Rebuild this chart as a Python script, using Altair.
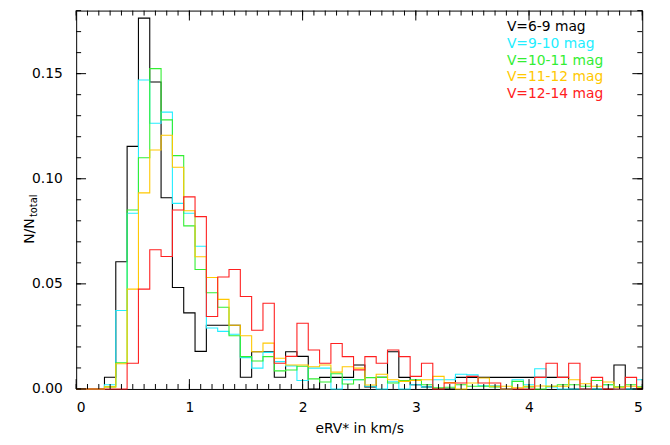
import altair as alt
import pandas as pd

# bin centres (km/s), bins of width 0.1
centers = [0.0, 0.1, 0.2, 0.3, 0.4, 0.5, 0.6, 0.7, 0.8, 0.9,
           1.0, 1.1, 1.2, 1.3, 1.4, 1.5, 1.6, 1.7, 1.8, 1.9,
           2.0, 2.1, 2.2, 2.3, 2.4, 2.5, 2.6, 2.7, 2.8, 2.9,
           3.0, 3.1, 3.2, 3.3, 3.4, 3.5, 3.6, 3.7, 3.8, 3.9,
           4.0, 4.1, 4.2, 4.3, 4.4, 4.5, 4.6, 4.7, 4.8, 4.9, 5.0]

v6_9 = [0, 0, 0, 0.0056, 0.0605, 0.1154, 0.1764, 0.146, 0.091, 0.0483,
        0.0362, 0.0179, 0.0303, 0.0303, 0.0303, 0.0056, 0.0177, 0.0177, 0.0056, 0.0177,
        0.0155, 0.0, 0.0055, 0.0055, 0.0055, 0.0114, 0.001, 0.0055, 0.0177, 0.0055,
        0.002, 0.001, 0.0, 0.0, 0.0055, 0.0055, 0.0055, 0.0055, 0.0055, 0.0055,
        0.0055, 0.0055, 0.0055, 0.0055, 0.0, 0.0, 0.0, 0.0, 0.0114, 0.0, 0.0]

v9_10 = [0, 0, 0, 0.002, 0.0373, 0.0836, 0.147, 0.1264, 0.1317, 0.0883,
         0.0836, 0.0679, 0.029, 0.0274, 0.026, 0.0149, 0.0099, 0.0174, 0.013, 0.011,
         0.004, 0.0099, 0.0099, 0.0, 0.0044, 0.0044, 0.0013, 0.0, 0.0034, 0.0,
         0.002, 0.001, 0.0044, 0.0044, 0.007, 0.0067, 0.0015, 0.0015, 0.0, 0.0044,
         0.002, 0.0096, 0.001, 0.0, 0.0, 0.0, 0.0, 0.002, 0.0, 0.0, 0.0044]

v10_11 = [0, 0, 0, 0.001, 0.0125, 0.0851, 0.110, 0.1524, 0.128, 0.111,
          0.0776, 0.0568, 0.0458, 0.0389, 0.0253, 0.0154, 0.0133, 0.0154, 0.0086, 0.009,
          0.0108, 0.0048, 0.0033, 0.0072, 0.0024, 0.0044, 0.0054, 0.0055, 0.0028, 0.004,
          0.0044, 0.002, 0.0005, 0.0008, 0.002, 0.0013, 0.0013, 0.001, 0.0, 0.0036,
          0.001, 0.0, 0.0013, 0.002, 0.002, 0.0013, 0.004, 0.002, 0.001, 0.002, 0.001]

v11_12 = [0, 0, 0, 0.001, 0.012, 0.0475, 0.0933, 0.1137, 0.1207, 0.1055,
          0.0848, 0.0629, 0.053, 0.0426, 0.0303, 0.0253, 0.0177, 0.0218, 0.0146, 0.0114,
          0.0114, 0.0106, 0.0114, 0.008, 0.0106, 0.0099, 0.0019, 0.007, 0.0044, 0.0036,
          0.004, 0.0044, 0.006, 0.003, 0.0, 0.0028, 0.0052, 0.0013, 0.0013, 0.0005,
          0.0013, 0.0014, 0.0013, 0.0013, 0.0044, 0.0025, 0.0013, 0.0033, 0.0008, 0.0013, 0.0005]

v12_14 = [0, 0, 0, 0, 0, 0.0122, 0.0475, 0.0662, 0.063, 0.0851,
          0.0914, 0.082, 0.0345, 0.0533, 0.0568, 0.044, 0.0279, 0.0408, 0.0122, 0.0155,
          0.0313, 0.0185, 0.0122, 0.0216, 0.0154, 0.0091, 0.0154, 0.0122, 0.0185, 0.0154,
          0.006, 0.0122, 0.0, 0.0028, 0.0028, 0.006, 0.0028, 0.0028, 0.0, 0.0,
          0.0, 0.0055, 0.0122, 0.0055, 0.0122, 0.0, 0.0055, 0.0, 0.0, 0.0055, 0.0]

series_labels = ["V=6-9 mag", "V=9-10 mag", "V=10-11 mag", "V=11-12 mag", "V=12-14 mag"]
series_values = [v6_9, v9_10, v10_11, v11_12, v12_14]
series_colors = ["#000000", "#22eeff", "#33ee33", "#ffc800", "#ff2020"]

x_major = [0, 1, 2, 3, 4, 5]
x_minor = [c for c in centers]
y_major = [0.0, 0.05, 0.10, 0.15]
y_minor = [0.00, 0.01, 0.02, 0.03, 0.04, 0.05, 0.06, 0.07, 0.08, 0.09,
           0.10, 0.11, 0.12, 0.13, 0.14, 0.15, 0.16, 0.17, 0.18]

W, H = 573, 383
FONT = "DejaVu Sans"

xscale = alt.Scale(domain=[0, 5], nice=False, zero=False)
yscale = alt.Scale(domain=[0, 0.18], nice=False, zero=False)

xaxis = alt.Axis(values=x_major, format="d", ticks=False, domain=False, grid=False,
                 labelPadding=12, title="eRV* in km/s", titlePadding=7)
yaxis = alt.Axis(values=y_major, format=".2f", ticks=False, domain=False, grid=False,
                 labelPadding=14, title="")

layers = []
for lab, vals, col in zip(series_labels, series_values, series_colors):
    df = pd.DataFrame({"x": centers, "y": vals})
    layers.append(
        alt.Chart(df).mark_line(interpolate="step", color=col, strokeWidth=1.1)
        .encode(x=alt.X("x:Q", scale=xscale, axis=xaxis),
                y=alt.Y("y:Q", scale=yscale, axis=yaxis))
    )

# tick marks drawn inside the frame on all four sides
xmaj = pd.DataFrame({"x": x_major})
xmin = pd.DataFrame({"x": x_minor})
ymaj = pd.DataFrame({"y": y_major})
ymin = pd.DataFrame({"y": y_minor})

def xticks(d, L):
    bot = alt.Chart(d).mark_rule(color="black", strokeWidth=1).encode(
        x=alt.X("x:Q", scale=xscale, axis=xaxis), y=alt.value(H), y2=alt.value(H - L))
    top = alt.Chart(d).mark_rule(color="black", strokeWidth=1).encode(
        x=alt.X("x:Q", scale=xscale, axis=xaxis), y=alt.value(0), y2=alt.value(L))
    return [bot, top]

def yticks(d, L):
    left = alt.Chart(d).mark_rule(color="black", strokeWidth=1).encode(
        y=alt.Y("y:Q", scale=yscale, axis=yaxis), x=alt.value(0), x2=alt.value(L))
    right = alt.Chart(d).mark_rule(color="black", strokeWidth=1).encode(
        y=alt.Y("y:Q", scale=yscale, axis=yaxis), x=alt.value(W), x2=alt.value(W - L))
    return [left, right]

tick_layers = xticks(xmin, 5) + xticks(xmaj, 10) + yticks(ymin, 5) + yticks(ymaj, 10)

# legend as coloured text
legend_layers = []
for i, (lab, col) in enumerate(zip(series_labels, series_colors)):
    legend_layers.append(
        alt.Chart(pd.DataFrame({"t": [lab]})).mark_text(
            align="left", baseline="middle", font=FONT, fontSize=14, color=col)
        .encode(text="t:N", x=alt.value(436), y=alt.value(17 + i * 16.8))
    )

# y-axis title N/N_total
ytitle = [
    alt.Chart(pd.DataFrame({"t": ["N/N"]})).mark_text(
        angle=270, align="left", baseline="middle", font=FONT, fontSize=14, color="black")
    .encode(text="t:N", x=alt.value(-47), y=alt.value(236)),
    alt.Chart(pd.DataFrame({"t": ["total"]})).mark_text(
        angle=270, align="left", baseline="middle", font=FONT, fontSize=10, color="black")
    .encode(text="t:N", x=alt.value(-43), y=alt.value(209)),
]

chart = alt.layer(*layers, *tick_layers, *legend_layers, *ytitle).properties(
    width=W, height=H,
    autosize=alt.AutoSizeParams(type="none"),
    padding={"left": 69, "top": 0, "right": 20, "bottom": 46},
).configure_view(stroke="black", strokeWidth=1).configure_axis(
    labelFont=FONT, labelFontSize=14, labelColor="black",
    titleFont=FONT, titleFontSize=14, titleColor="black", titleFontWeight="normal",
)

chart.save("out.html", embed_options={"renderer": "svg", "actions": False})
